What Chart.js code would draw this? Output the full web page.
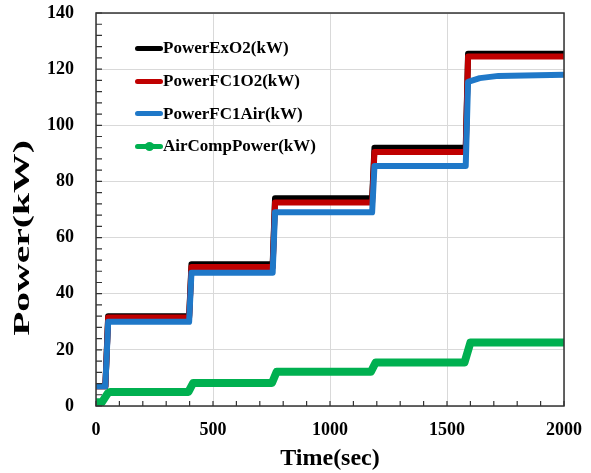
<!DOCTYPE html>
<html>
<head>
<meta charset="utf-8">
<script src="https://cdn.jsdelivr.net/npm/chart.js@4"></script>
<style>
  body { margin: 0; background: #fff; }
  #wrap { position: relative; width: 591px; height: 473px; }
  #legend { position: absolute; left: 135px; top: 32px; font: bold 17px "Liberation Serif", serif; color: #000; }
  .row { height: 32.7px; display: flex; align-items: center; }
  .mark { width: 28px; height: 5px; border-radius: 3px; position: relative; }
  .dot { position: absolute; left: 10px; top: -2px; width: 9px; height: 9px; border-radius: 50%; }
</style>
</head>
<body>
<div id="wrap">
  <canvas id="chart" width="591" height="473"></canvas>
  <div id="legend"></div>
</div>
<script>
/* -----------------------------------------
   data
----------------------------------------- */
const times = [0, 40, 52, 398, 408, 755, 765, 1180, 1190, 1580, 1590, 1640, 1720, 2000];
const powerExO2 = [7, 7, 32, 32, 50.5, 50.5, 74, 74, 92, 92, 125.5, 125.5, 125.5, 125.5];
const powerFC1O2 = [7, 7, 31.5, 31.5, 49.5, 49.5, 72.5, 72.5, 90.5, 90.5, 124.5, 124.5, 124.5, 124.5];
const powerFC1Air = [7, 7, 30, 30, 47.5, 47.5, 69, 69, 85.5, 85.5, 115.5, 116.8, 117.6, 118];

const compTimes = [0, 25, 50, 60, 395, 415, 752, 772, 1175, 1195, 1575, 1600, 2000];
const airCompPower = [1.3, 1.3, 4.5, 5, 5, 8.2, 8.2, 12.2, 12.2, 15.5, 15.5, 22.6, 22.6];

const xTickLabels = [0, 500, 1000, 1500, 2000];
const yTickLabels = [0, 20, 40, 60, 80, 100, 120, 140];

const series = [
    { label: "PowerExO2(kW)", color: "#000000", t: times, v: powerExO2, width: 6 },
    { label: "PowerFC1O2(kW)", color: "#c00000", t: times, v: powerFC1O2, width: 6 },
    { label: "PowerFC1Air(kW)", color: "#1f78c8", t: times, v: powerFC1Air, width: 6 },
    { label: "AirCompPower(kW)", color: "#00b050", t: compTimes, v: airCompPower, width: 8, dot: true }
];

/* -----------------------------------------
   legend
----------------------------------------- */
const legend = document.getElementById("legend");
series.forEach(s => {
    const row = document.createElement("div");
    row.className = "row";
    row.innerHTML = `<span class="mark" style="background:${s.color}">` +
        (s.dot ? `<span class="dot" style="background:${s.color}"></span>` : "") +
        `</span><span>${s.label}</span>`;
    legend.appendChild(row);
});

/* -----------------------------------------
   frame, inward ticks, y title (stretched like the original)
----------------------------------------- */
const frame = {
    id: "frame",
    afterDraw(chart) {
        const { ctx, chartArea: a, scales } = chart;
        ctx.save();
        ctx.strokeStyle = "#333";
        ctx.lineWidth = 1.5;
        ctx.strokeRect(a.left, a.top, a.right - a.left, a.bottom - a.top);
        ctx.lineWidth = 1.2;
        ctx.beginPath();
        scales.x.ticks.forEach(t => {
            const px = scales.x.getPixelForValue(t.value);
            ctx.moveTo(px, a.bottom);
            ctx.lineTo(px, a.bottom - 5);
        });
        scales.y.ticks.forEach(t => {
            const py = scales.y.getPixelForValue(t.value);
            ctx.moveTo(a.left, py);
            ctx.lineTo(a.left + 6, py);
        });
        ctx.stroke();

        // y title
        ctx.translate(23, 238);
        ctx.rotate(-Math.PI / 2);
        ctx.scale(1.65, 1);
        ctx.fillStyle = "#000";
        ctx.font = "bold 24px 'Liberation Serif'";
        ctx.textAlign = "center";
        ctx.textBaseline = "middle";
        ctx.fillText("Power(kW)", 0, 0);
        ctx.restore();
    }
};

/* -----------------------------------------
   chart
----------------------------------------- */
const tickFont = { family: "Liberation Serif", size: 18, weight: "bold" };

// blue on top, black at the bottom
const drawOrder = [3, 2, 0, 1];

new Chart(document.getElementById("chart"), {
    type: "line",
    data: {
        datasets: series.map((s, i) => ({
            label: s.label,
            data: s.t.map((t, k) => ({ x: t, y: s.v[k] })),
            borderColor: s.color,
            backgroundColor: s.color,
            borderWidth: s.width,
            borderCapStyle: "round",
            borderJoinStyle: "round",
            pointRadius: 0,
            tension: 0,
            order: drawOrder[i]
        }))
    },
    options: {
        responsive: false,
        animation: false,
        layout: { padding: { top: 13, right: 27, left: 0, bottom: 0 } },
        plugins: { legend: { display: false }, tooltip: { enabled: false } },
        scales: {
            x: {
                type: "linear",
                min: 0, max: 2000,
                afterFit(s) { s.height = 67; s.paddingLeft = 0; s.paddingRight = 0; },
                ticks: {
                    stepSize: 100, autoSkip: false, maxRotation: 0, padding: 14,
                    color: "#000", font: tickFont,
                    callback: v => xTickLabels.includes(v) ? String(v) : ""
                },
                grid: {
                    drawTicks: false,
                    color: c => (c.tick && c.tick.value % 500 === 0) ? "#d9d9d9" : "transparent"
                },
                border: { display: false },
                title: {
                    display: true, text: "Time(sec)", color: "#000",
                    font: { family: "Liberation Serif", size: 24, weight: "bold" },
                    padding: { top: 0, bottom: 0 }
                }
            },
            y: {
                min: 0, max: 140,
                afterFit(s) { s.width = 96; s.paddingTop = 0; s.paddingBottom = 0; },
                ticks: {
                    stepSize: 4, autoSkip: false, padding: 22,
                    color: "#000", font: tickFont,
                    callback: v => yTickLabels.includes(v) ? String(v) : ""
                },
                grid: {
                    drawTicks: false,
                    color: c => (c.tick && c.tick.value % 20 === 0) ? "#d9d9d9" : "transparent"
                },
                border: { display: false },
                title: { display: false }
            }
        }
    },
    plugins: [frame]
});
</script>
</body>
</html>
